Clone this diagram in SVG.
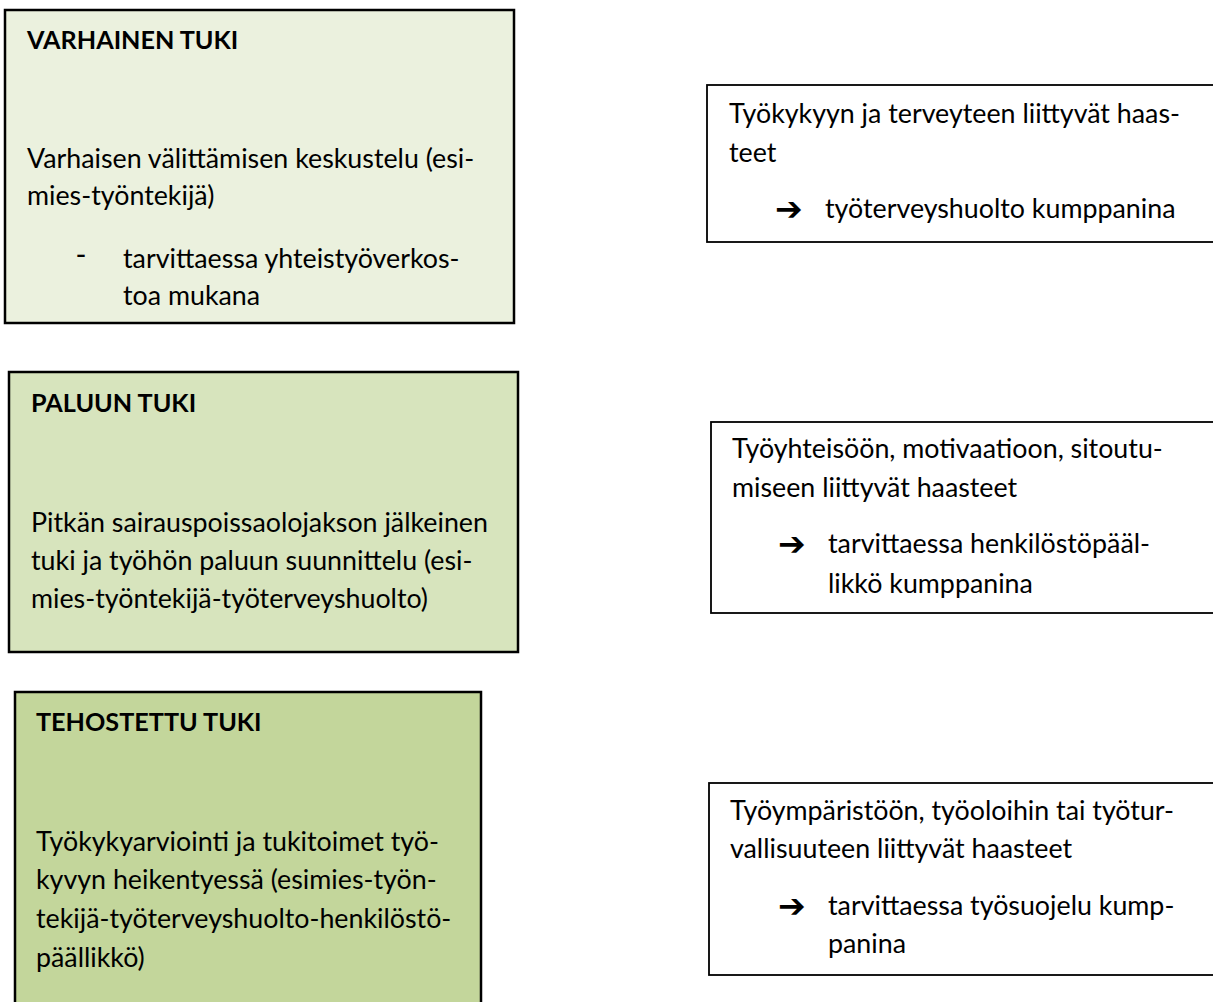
<svg xmlns="http://www.w3.org/2000/svg" width="1213" height="1002" viewBox="0 0 1213 1002">
<style>
.box{stroke:#000;stroke-width:2.5}
.rbox{fill:#fff;stroke:#000;stroke-width:1.8}
.t{font-family:Lato,"Liberation Sans",sans-serif;font-size:26.8px;fill:#000}
.h{font-family:Lato,"Liberation Sans",sans-serif;font-size:25.2px;font-weight:bold;fill:#000}
.arr{font-family:"DejaVu Sans",sans-serif;font-size:33px;font-weight:bold;fill:#000}
.dash{font-family:"Liberation Sans",sans-serif;font-size:30px;fill:#000}
</style>
<rect width="1213" height="1002" fill="#fff"/>
<g id="varhainen">
<rect class="box" x="5" y="10" width="509" height="313" fill="#EBF1DE"/>
<text class="h" x="27" y="49">VARHAINEN TUKI</text>
<text class="t" x="27" y="168">Varhaisen välittämisen keskustelu (esi-</text>
<text class="t" x="27" y="205">mies-työntekijä)</text>
<text class="dash" x="76" y="264">-</text>
<text class="t" x="123" y="268">tarvittaessa yhteistyöverkos-</text>
<text class="t" x="123" y="305">toa mukana</text>
</g>
<g id="paluun">
<rect class="box" x="9" y="372" width="509" height="280" fill="#D7E4BD"/>
<text class="h" x="31" y="412">PALUUN TUKI</text>
<text class="t" x="31" y="532">Pitkän sairauspoissaolojakson jälkeinen</text>
<text class="t" x="31" y="570">tuki ja työhön paluun suunnittelu (esi-</text>
<text class="t" x="31" y="608">mies-työntekijä-työterveyshuolto)</text>
</g>
<g id="tehostettu">
<rect class="box" x="15" y="692" width="466" height="330" fill="#C3D69B"/>
<text class="h" x="36" y="731">TEHOSTETTU TUKI</text>
<text class="t" x="36" y="851">Työkykyarviointi ja tukitoimet työ-</text>
<text class="t" x="36" y="889">kyvyn heikentyessä (esimies-työn-</text>
<text class="t" x="36" y="928">tekijä-työterveyshuolto-henkilöstö-</text>
<text class="t" x="36" y="967">päällikkö)</text>
</g>
<g id="terveys">
<rect class="rbox" x="707" y="85" width="520" height="157"/>
<text class="t" x="729" y="123">Työkykyyn ja terveyteen liittyvät haas-</text>
<text class="t" x="729" y="162">teet</text>
<text class="arr" x="775" y="220">➔</text>
<text class="t" x="825" y="218">työterveyshuolto kumppanina</text>
</g>
<g id="tyoyhteiso">
<rect class="rbox" x="711" y="422" width="520" height="191"/>
<text class="t" x="732" y="458">Työyhteisöön, motivaatioon, sitoutu-</text>
<text class="t" x="732" y="497">miseen liittyvät haasteet</text>
<text class="arr" x="778" y="555">➔</text>
<text class="t" x="828" y="553">tarvittaessa henkilöstöpääl-</text>
<text class="t" x="828" y="593">likkö kumppanina</text>
</g>
<g id="tyoymparisto">
<rect class="rbox" x="709" y="783" width="520" height="192"/>
<text class="t" x="730" y="820">Työympäristöön, työoloihin tai työtur-</text>
<text class="t" x="730" y="858">vallisuuteen liittyvät haasteet</text>
<text class="arr" x="778" y="917">➔</text>
<text class="t" x="828" y="915">tarvittaessa työsuojelu kump-</text>
<text class="t" x="828" y="953">panina</text>
</g>
<g id="connectors"></g>
</svg>
